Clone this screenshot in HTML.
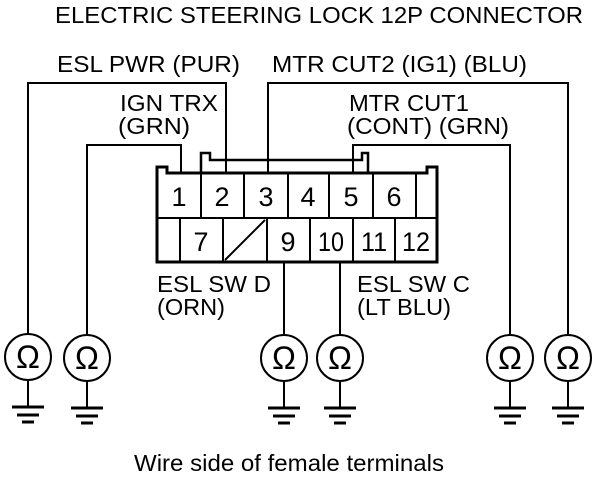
<!DOCTYPE html>
<html><head><meta charset="utf-8"><style>
html,body{margin:0;padding:0;background:#fff;}
svg{display:block;}
text{font-family:"Liberation Sans",Arial,sans-serif;fill:#000;}
</style></head><body>
<svg width="608" height="480" viewBox="0 0 608 480" xmlns="http://www.w3.org/2000/svg">
<g font-size="23">
<text x="55" y="23" textLength="528" lengthAdjust="spacingAndGlyphs">ELECTRIC STEERING LOCK 12P CONNECTOR</text>
<text x="57" y="72" textLength="183" lengthAdjust="spacingAndGlyphs">ESL PWR (PUR)</text>
<text x="272" y="72" textLength="255" lengthAdjust="spacingAndGlyphs">MTR CUT2 (IG1) (BLU)</text>
<text x="120" y="111" textLength="98" lengthAdjust="spacingAndGlyphs">IGN TRX</text>
<text x="118" y="134" textLength="72" lengthAdjust="spacingAndGlyphs">(GRN)</text>
<text x="349" y="111" textLength="120" lengthAdjust="spacingAndGlyphs">MTR CUT1</text>
<text x="347" y="134" textLength="162" lengthAdjust="spacingAndGlyphs">(CONT) (GRN)</text>
<text x="157" y="292" textLength="114" lengthAdjust="spacingAndGlyphs">ESL SW D</text>
<text x="157" y="315" textLength="68" lengthAdjust="spacingAndGlyphs">(ORN)</text>
<text x="357" y="292" textLength="113" lengthAdjust="spacingAndGlyphs">ESL SW C</text>
<text x="357" y="315" textLength="94" lengthAdjust="spacingAndGlyphs">(LT BLU)</text>
<text x="134" y="471" textLength="310" lengthAdjust="spacingAndGlyphs">Wire side of female terminals</text>
</g>
<g stroke="#000" fill="none" stroke-width="2">
<polyline points="226,173 226,83 28,83 28,334"/>
<polyline points="268,173 268,83 568,83 568,334"/>
<polyline points="181,173 181,145 87,145 87,334"/>
<polyline points="353,173 353,145 510,145 510,334"/>
<line x1="284" y1="262" x2="284" y2="334"/>
<line x1="340" y1="262" x2="340" y2="334"/>
<path d="M157,262 L157,167 L167,167 L167,173 L427,173 L427,167 L437,167 L437,262 Z" stroke-width="3"/>
<path d="M201,173 L201,153 L210,153 L210,160 L362,160 L362,153 L368,153 L368,173" stroke-width="2.5"/>
<line x1="157" y1="218" x2="437" y2="218"/>
<line x1="201" y1="173" x2="201" y2="218"/>
<line x1="244" y1="173" x2="244" y2="218"/>
<line x1="288" y1="173" x2="288" y2="218"/>
<line x1="329" y1="173" x2="329" y2="218"/>
<line x1="373" y1="173" x2="373" y2="218"/>
<line x1="416" y1="173" x2="416" y2="218"/>
<line x1="180" y1="218" x2="180" y2="262"/>
<line x1="223" y1="218" x2="223" y2="262"/>
<line x1="267" y1="218" x2="267" y2="262"/>
<line x1="310" y1="218" x2="310" y2="262"/>
<line x1="353" y1="218" x2="353" y2="262"/>
<line x1="395" y1="218" x2="395" y2="262"/>
<line x1="225" y1="260" x2="265" y2="220"/>
</g>
<g font-size="27" text-anchor="middle">
<text x="179" y="206">1</text><text x="222" y="206">2</text><text x="266" y="206">3</text>
<text x="308" y="206">4</text><text x="351" y="206">5</text><text x="394" y="206">6</text>
<text x="201" y="251">7</text><text x="288" y="251">9</text><text x="331" y="251" textLength="26" lengthAdjust="spacingAndGlyphs">10</text>
<text x="374" y="251" textLength="26" lengthAdjust="spacingAndGlyphs">11</text><text x="416" y="251" textLength="28" lengthAdjust="spacingAndGlyphs">12</text>
</g>
<defs>
<g id="m">
<circle cx="0" cy="0" r="23" fill="#fff" stroke="#000" stroke-width="2"/>
<text x="0" y="11" font-size="32" text-anchor="middle">Ω</text>
<line x1="0" y1="23" x2="0" y2="49" stroke="#000" stroke-width="2"/>
<line x1="-16" y1="50" x2="16" y2="50" stroke="#000" stroke-width="3"/>
<line x1="-11" y1="58" x2="11" y2="58" stroke="#000" stroke-width="3"/>
<line x1="-6" y1="65" x2="6" y2="65" stroke="#000" stroke-width="3"/>
</g>
</defs>
<use href="#m" x="28" y="357"/>
<use href="#m" x="87" y="358"/>
<use href="#m" x="284" y="358"/>
<use href="#m" x="340" y="358"/>
<use href="#m" x="510" y="358"/>
<use href="#m" x="568" y="358"/>
</svg>
</body></html>
